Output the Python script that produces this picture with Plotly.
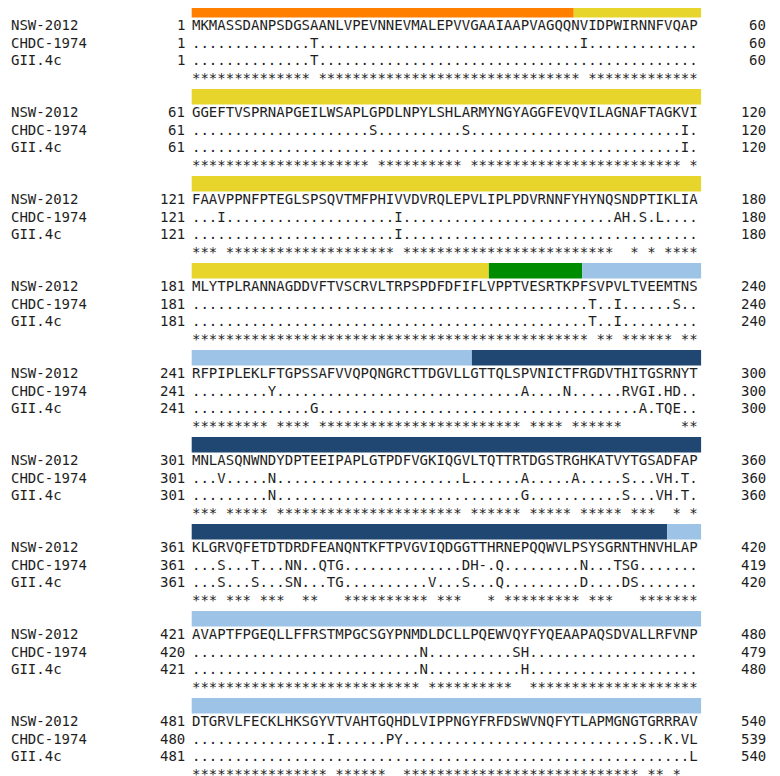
import plotly.graph_objects as go

# ---------------- data ----------------
strain_names = ["NSW-2012", "CHDC-1974", "GII.4c"]

nsw_blocks = [
    "MKMASSDANPSDGSAANLVPEVNNEVMALEPVVGAAIAAPVAGQQNVIDPWIRNNFVQAP",
    "GGEFTVSPRNAPGEILWSAPLGPDLNPYLSHLARMYNGYAGGFEVQVILAGNAFTAGKVI",
    "FAAVPPNFPTEGLSPSQVTMFPHIVVDVRQLEPVLIPLPDVRNNFYHYNQSNDPTIKLIA",
    "MLYTPLRANNAGDDVFTVSCRVLTRPSPDFDFIFLVPPTVESRTKPFSVPVLTVEEMTNS",
    "RFPIPLEKLFTGPSSAFVVQPQNGRCTTDGVLLGTTQLSPVNICTFRGDVTHITGSRNYT",
    "MNLASQNWNDYDPTEEIPAPLGTPDFVGKIQGVLTQTTRTDGSTRGHKATVYTGSADFAP",
    "KLGRVQFETDTDRDFEANQNTKFTPVGVIQDGGTTHRNEPQQWVLPSYSGRNTHNVHLAP",
    "AVAPTFPGEQLLFFRSTMPGCSGYPNMDLDCLLPQEWVQYFYQEAAPAQSDVALLRFVNP",
    "DTGRVLFECKLHKSGYVTVAHTGQHDLVIPPNGYFRFDSWVNQFYTLAPMGNGTGRRRAV",
]
chdc_blocks = [
    "..............T...............................I.............",
    ".....................S..........S.........................I.",
    "...I....................I.........................AH.S.L....",
    "...............................................T..I......S..",
    ".........Y.............................A....N......RVGI.HD..",
    "...V.....N......................L......A.....A.....S...VH.T.",
    "...S...T...NN..QTG..............DH-.Q.........N...TSG.......",
    "...........................N..........SH....................",
    "................I......PY............................S..K.VL",
]
gii_blocks = [
    "..............T.............................................",
    "..........................................................I.",
    "........................I...................................",
    "...............................................T..I.........",
    "..............G......................................A.TQE..",
    ".........N.............................G...........S...VH.T.",
    "...S...S...SN...TG..........V...S...Q.........D....DS.......",
    "...........................N...........H....................",
    "...........................................................L",
]
nsw_start = [1, 61, 121, 181, 241, 301, 361, 421, 481]
nsw_end = [60, 120, 180, 240, 300, 360, 420, 480, 540]
chdc_start = [1, 61, 121, 181, 241, 301, 361, 420, 480]
chdc_end = [60, 120, 180, 240, 300, 360, 419, 479, 539]
gii_start = [1, 61, 121, 181, 241, 301, 361, 421, 481]
gii_end = [60, 120, 180, 240, 300, 360, 420, 480, 540]

# VP1 domains (NSW-2012 numbering)
domain_names = ["N-terminal", "Shell", "Hinge", "P1", "P2", "P1"]
domain_start = [1, 46, 216, 227, 274, 417]
domain_end = [45, 215, 226, 273, 416, 540]
domain_colors = ["#FF7F00", "#E8D52B", "#008C00", "#9DC3E6", "#1F4771", "#9DC3E6"]

# ---------------- layout constants (page pixels) ----------------
W, H = 780, 776
OFF = 8            # page body margin
FONT = "DejaVu Sans Mono"
FS = 14
BAR_CW = 8.49
X_SEQ = 192.0
X_BAR = 191.7
X_LABEL = 11.0
X_LNUM = 185.0     # right edge of left number
X_RNUM = 766.0     # right edge of right number
TOP = 2.0
BLOCK_H = 87.0
BAR_H = 15.5
ROW_OFF = [23.0, 40.5, 58.0, 75.5]
TXT = "#1e1e1e"

fig = go.Figure()
fig.add_trace(go.Scatter(x=[OFF, W + OFF], y=[OFF, H + OFF], mode="markers",
                         marker=dict(opacity=0), hoverinfo="skip", showlegend=False))

shapes = []
annotations = []


def ann(x, y, text, anchor="left"):
    annotations.append(dict(x=x, y=y, xref="x", yref="y", text=text, showarrow=False,
                            xanchor=anchor, yanchor="middle", borderpad=0, borderwidth=0,
                            font=dict(family=FONT, size=FS, color=TXT)))


for b in range(len(nsw_blocks)):
    top = TOP + b * BLOCK_H
    bstart, bend = nsw_start[b], nsw_end[b]
    # domain bar
    for ds, de, dc in zip(domain_start, domain_end, domain_colors):
        s, e = max(ds, bstart), min(de, bend)
        if s > e:
            continue
        shapes.append(dict(type="rect", xref="x", yref="y",
                           x0=X_BAR + (s - bstart) * BAR_CW, x1=X_BAR + (e - bstart + 1) * BAR_CW,
                           y0=top, y1=top + BAR_H, fillcolor=dc, line=dict(width=0), layer="below"))
    rows = [
        (strain_names[0], nsw_blocks[b], nsw_start[b], nsw_end[b]),
        (strain_names[1], chdc_blocks[b], chdc_start[b], chdc_end[b]),
        (strain_names[2], gii_blocks[b], gii_start[b], gii_end[b]),
    ]
    for r, (name, seq, s0, s1) in enumerate(rows):
        y = top + ROW_OFF[r]
        ann(X_LABEL, y, name)
        ann(X_LNUM, y, str(s0), "right")
        ann(X_SEQ, y, seq)
        ann(X_RNUM, y, str(s1), "right")
    cons = "".join("*" if (c == "." and g == ".") else " "
                   for c, g in zip(chdc_blocks[b], gii_blocks[b]))
    ann(X_SEQ, top + ROW_OFF[3], cons.replace(" ", "&nbsp;"))

fig.update_layout(
    width=W, height=H, margin=dict(l=0, r=0, t=0, b=0),
    paper_bgcolor="white", plot_bgcolor="white",
    xaxis=dict(range=[OFF, W + OFF], visible=False, fixedrange=True),
    yaxis=dict(range=[H + OFF, OFF], visible=False, fixedrange=True),
    shapes=shapes, annotations=annotations, showlegend=False,
)
fig.write_html("out.html")
